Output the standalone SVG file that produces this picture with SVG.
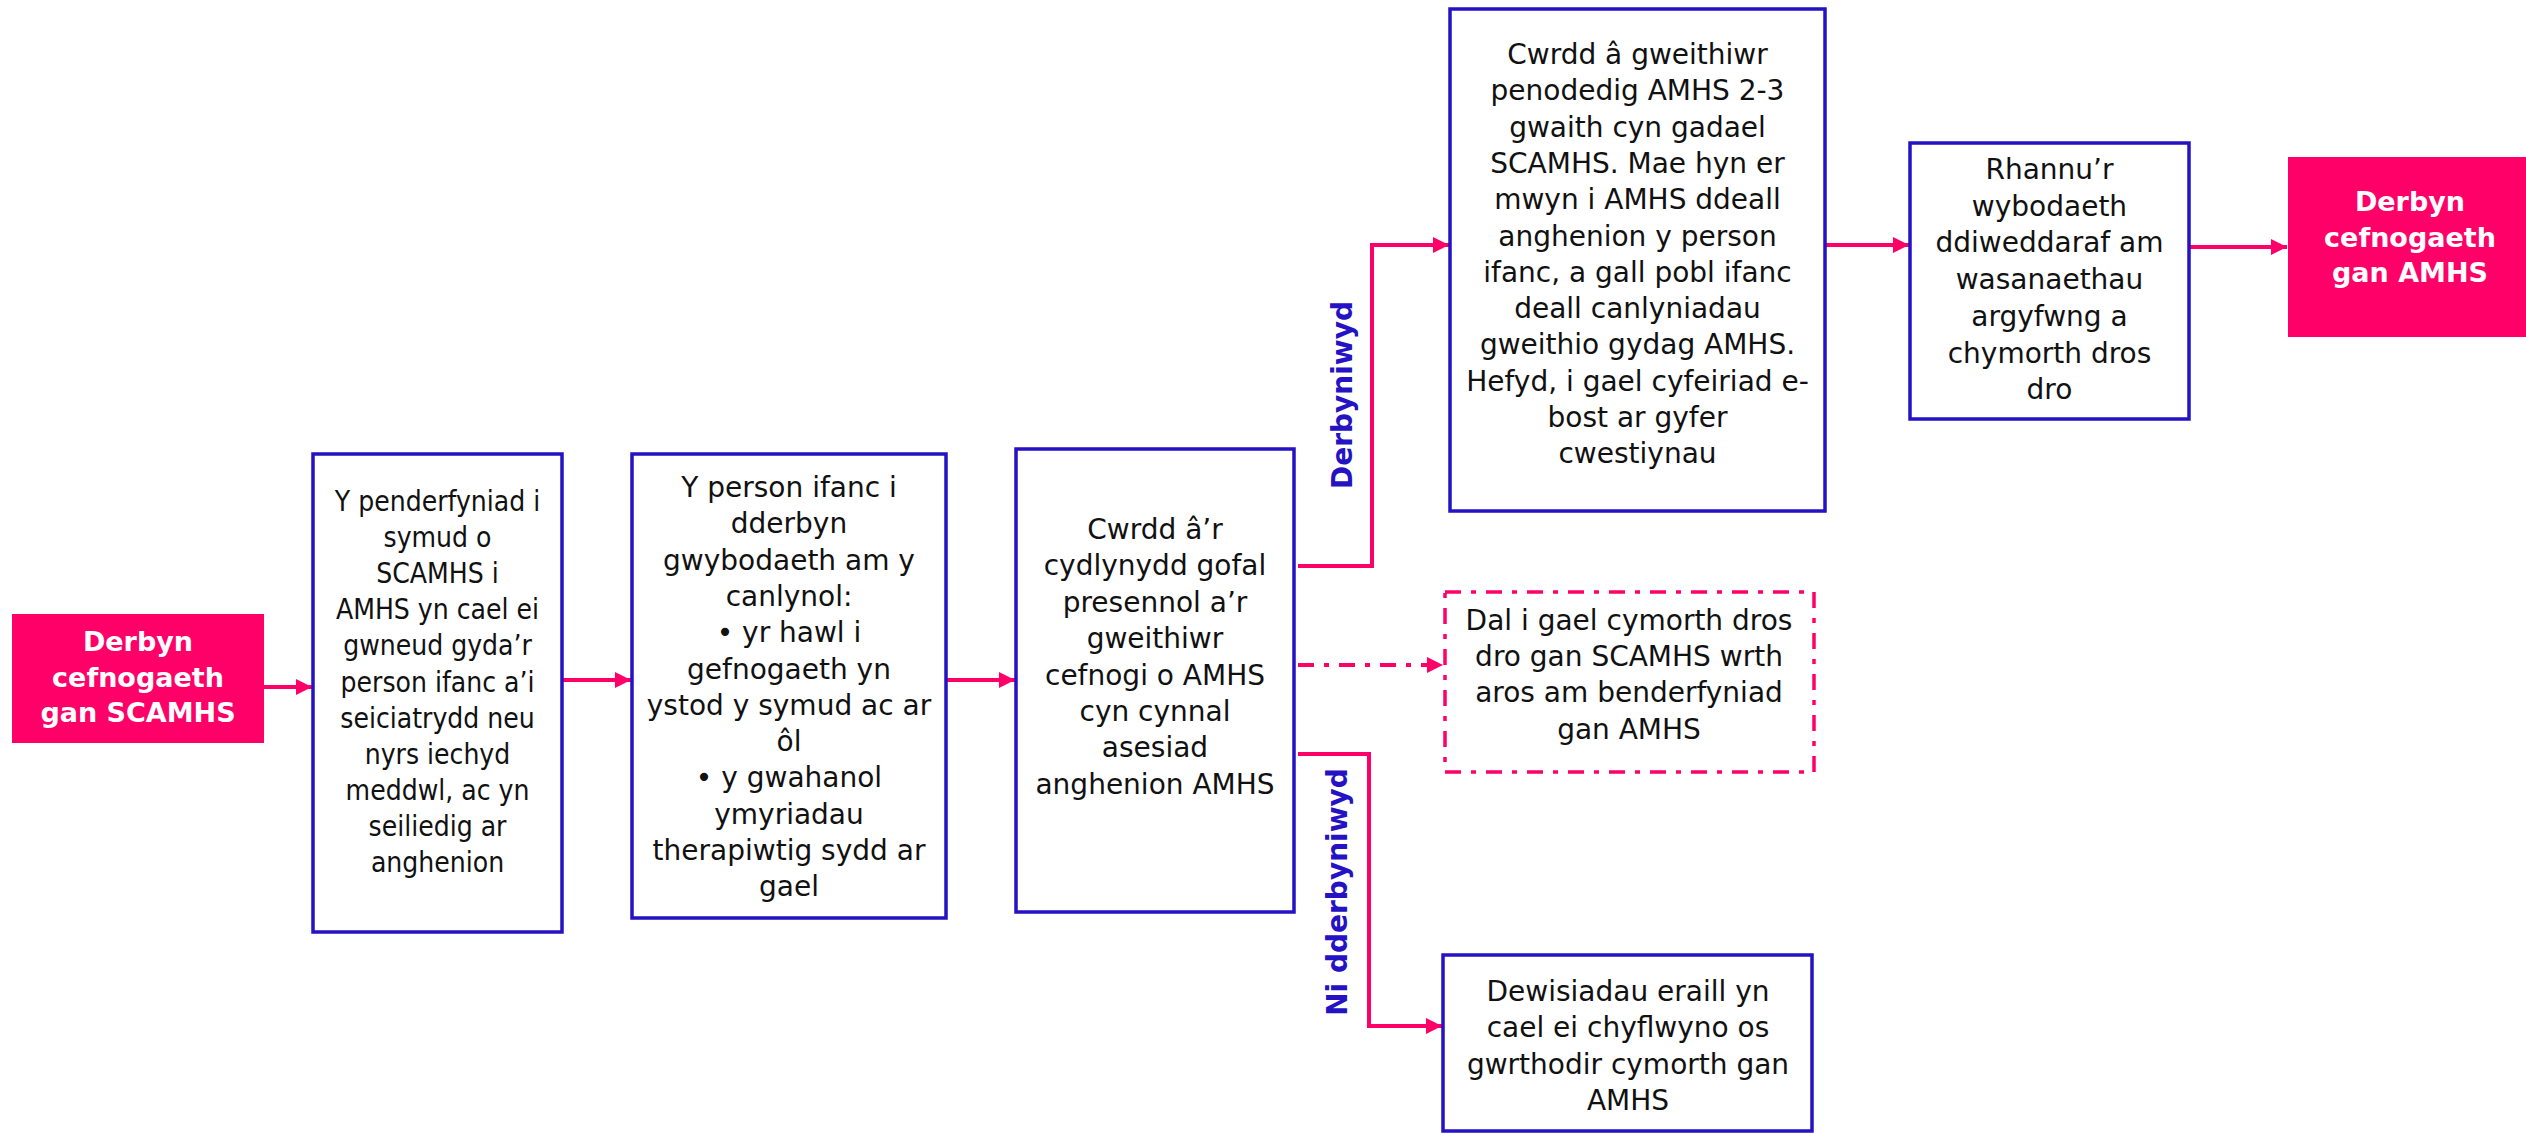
<svg xmlns="http://www.w3.org/2000/svg" width="2526" height="1134" viewBox="0 0 2526 1134">
<style>
.box{fill:#ffffff;stroke:#2412C4;stroke-width:3.5}
.dbox{fill:#ffffff;stroke:#FF0069;stroke-width:3.5;stroke-dasharray:16 10 5 10}
.pink{fill:#FF0069}
.t{font-family:"DejaVu Sans",sans-serif;font-size:28px;fill:#111111;text-anchor:middle}
.tc{font-family:"DejaVu Sans Condensed","DejaVu Sans",sans-serif;font-size:28px;fill:#111111;text-anchor:middle}
.tw{font-family:"DejaVu Sans",sans-serif;font-size:27px;font-weight:bold;fill:#ffffff;text-anchor:middle}
.lab{font-family:"DejaVu Sans",sans-serif;font-size:28px;font-weight:bold;fill:#2412C4;text-anchor:middle}
.c{fill:none;stroke:#FF0069;stroke-width:4}
.cd{fill:none;stroke:#FF0069;stroke-width:4;stroke-dasharray:16 10 5 10}
</style>
<defs>
<marker id="ah" markerUnits="userSpaceOnUse" markerWidth="16" markerHeight="16" refX="16" refY="8" orient="auto">
<path d="M0,0 L16,8 L0,16 Z" fill="#FF0069"/>
</marker>
</defs>
<rect width="2526" height="1134" fill="#ffffff"/>

<g id="connectors">
<path class="c" d="M264,687 H312" marker-end="url(#ah)"/>
<path class="c" d="M562,680 H631" marker-end="url(#ah)"/>
<path class="c" d="M946,680 H1015" marker-end="url(#ah)"/>
<path class="c" d="M1298,566 H1372 V245 H1449" marker-end="url(#ah)"/>
<path class="cd" d="M1298,665 H1443" marker-end="url(#ah)"/>
<path class="c" d="M1298,754 H1369 V1026 H1442" marker-end="url(#ah)"/>
<path class="c" d="M1825,245 H1909" marker-end="url(#ah)"/>
<path class="c" d="M2189,247 H2287" marker-end="url(#ah)"/>
<text class="lab" transform="translate(1352,395) rotate(-90)">Derbyniwyd</text>
<text class="lab" transform="translate(1347,892) rotate(-90)">Ni dderbyniwyd</text>
</g>

<g id="start">
<rect class="pink" x="12" y="614" width="252" height="129"/>
<text class="tw" x="138" y="651">Derbyn</text>
<text class="tw" x="138" y="687">cefnogaeth</text>
<text class="tw" x="138" y="722">gan SCAMHS</text>
</g>

<g id="decision">
<rect class="box" x="313" y="454" width="249" height="478"/>
<text class="tc" x="437.5" y="511">Y penderfyniad i</text>
<text class="tc" x="437.5" y="547">symud o</text>
<text class="tc" x="437.5" y="583">SCAMHS i</text>
<text class="tc" x="437.5" y="619">AMHS yn cael ei</text>
<text class="tc" x="437.5" y="655">gwneud gyda’r</text>
<text class="tc" x="437.5" y="692">person ifanc a’i</text>
<text class="tc" x="437.5" y="728">seiciatrydd neu</text>
<text class="tc" x="437.5" y="764">nyrs iechyd</text>
<text class="tc" x="437.5" y="800">meddwl, ac yn</text>
<text class="tc" x="437.5" y="836">seiliedig ar</text>
<text class="tc" x="437.5" y="872">anghenion</text>
</g>

<g id="info">
<rect class="box" x="632" y="454" width="314" height="464"/>
<text class="t" x="789" y="497">Y person ifanc i</text>
<text class="t" x="789" y="533">dderbyn</text>
<text class="t" x="789" y="570">gwybodaeth am y</text>
<text class="t" x="789" y="606">canlynol:</text>
<text class="t" x="789" y="642">• yr hawl i</text>
<text class="t" x="789" y="679">gefnogaeth yn</text>
<text class="t" x="789" y="715">ystod y symud ac ar</text>
<text class="t" x="789" y="751">ôl</text>
<text class="t" x="789" y="787">• y gwahanol</text>
<text class="t" x="789" y="824">ymyriadau</text>
<text class="t" x="789" y="860">therapiwtig sydd ar</text>
<text class="t" x="789" y="896">gael</text>
</g>

<g id="meeting">
<rect class="box" x="1016" y="449" width="278" height="463"/>
<text class="t" x="1155" y="539">Cwrdd â’r</text>
<text class="t" x="1155" y="575">cydlynydd gofal</text>
<text class="t" x="1155" y="612">presennol a’r</text>
<text class="t" x="1155" y="648">gweithiwr</text>
<text class="t" x="1155" y="685">cefnogi o AMHS</text>
<text class="t" x="1155" y="721">cyn cynnal</text>
<text class="t" x="1155" y="757">asesiad</text>
<text class="t" x="1155" y="794">anghenion AMHS</text>
</g>

<g id="accepted">
<rect class="box" x="1450" y="9" width="375" height="502"/>
<text class="t" x="1637.5" y="64">Cwrdd â gweithiwr</text>
<text class="t" x="1637.5" y="100">penodedig AMHS 2-3</text>
<text class="t" x="1637.5" y="137">gwaith cyn gadael</text>
<text class="t" x="1637.5" y="173">SCAMHS. Mae hyn er</text>
<text class="t" x="1637.5" y="209">mwyn i AMHS ddeall</text>
<text class="t" x="1637.5" y="246">anghenion y person</text>
<text class="t" x="1637.5" y="282">ifanc, a gall pobl ifanc</text>
<text class="t" x="1637.5" y="318">deall canlyniadau</text>
<text class="t" x="1637.5" y="354">gweithio gydag AMHS.</text>
<text class="t" x="1637.5" y="391">Hefyd, i gael cyfeiriad e-</text>
<text class="t" x="1637.5" y="427">bost ar gyfer</text>
<text class="t" x="1637.5" y="463">cwestiynau</text>
</g>

<g id="share">
<rect class="box" x="1910" y="143" width="279" height="276"/>
<text class="t" x="2049.5" y="179">Rhannu’r</text>
<text class="t" x="2049.5" y="216">wybodaeth</text>
<text class="t" x="2049.5" y="252">ddiweddaraf am</text>
<text class="t" x="2049.5" y="289">wasanaethau</text>
<text class="t" x="2049.5" y="326">argyfwng a</text>
<text class="t" x="2049.5" y="363">chymorth dros</text>
<text class="t" x="2049.5" y="399">dro</text>
</g>

<g id="end">
<rect class="pink" x="2288" y="157" width="238" height="180"/>
<text class="tw" x="2410" y="211">Derbyn</text>
<text class="tw" x="2410" y="247">cefnogaeth</text>
<text class="tw" x="2410" y="282">gan AMHS</text>
</g>

<g id="waiting">
<rect class="dbox" x="1445" y="592" width="369" height="180"/>
<text class="t" x="1629" y="630">Dal i gael cymorth dros</text>
<text class="t" x="1629" y="666">dro gan SCAMHS wrth</text>
<text class="t" x="1629" y="702">aros am benderfyniad</text>
<text class="t" x="1629" y="739">gan AMHS</text>
</g>

<g id="refused">
<rect class="box" x="1443" y="955" width="369" height="176"/>
<text class="t" x="1628" y="1001">Dewisiadau eraill yn</text>
<text class="t" x="1628" y="1037">cael ei chyflwyno os</text>
<text class="t" x="1628" y="1074">gwrthodir cymorth gan</text>
<text class="t" x="1628" y="1110">AMHS</text>
</g>
</svg>
